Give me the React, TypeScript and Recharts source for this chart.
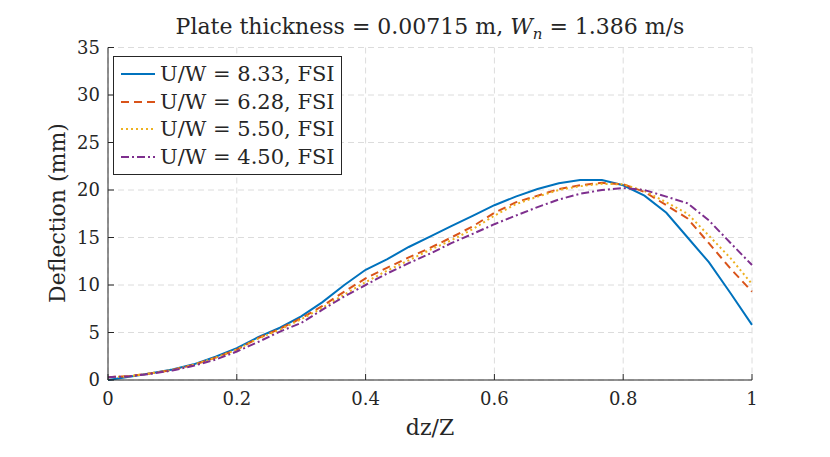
import { CartesianGrid, Line, LineChart, XAxis, YAxis } from "recharts";

const dz = [
  0, 0.033, 0.067, 0.1, 0.133, 0.167, 0.2, 0.233, 0.267, 0.3, 0.333, 0.367,
  0.4, 0.433, 0.467, 0.5, 0.533, 0.567, 0.6, 0.633, 0.667, 0.7, 0.733, 0.767,
  0.8, 0.833, 0.867, 0.9, 0.933, 0.967, 1,
];

const uw833 = [
  0.0, 0.35, 0.7, 1.1, 1.65, 2.45, 3.35, 4.5, 5.5, 6.7, 8.2, 10.0, 11.6, 12.7,
  14.0, 15.1, 16.2, 17.3, 18.4, 19.3, 20.1, 20.7, 21.05, 21.05, 20.5, 19.4,
  17.6, 15.0, 12.4, 9.1, 5.8,
];
const uw628 = [
  0.3, 0.4, 0.7, 1.05, 1.6, 2.35, 3.2, 4.4, 5.4, 6.5, 7.8, 9.3, 10.7, 11.8,
  12.9, 13.9, 15.0, 16.2, 17.6, 18.7, 19.4, 20.1, 20.5, 20.75, 20.6, 19.8,
  18.4, 17.0, 14.4, 11.7, 9.3,
];
const uw550 = [
  0.3, 0.4, 0.7, 1.05, 1.6, 2.35, 3.2, 4.35, 5.3, 6.4, 7.6, 9.0, 10.3, 11.5,
  12.6, 13.7, 14.7, 15.9, 17.3, 18.5, 19.3, 20.0, 20.4, 20.65, 20.6, 19.9,
  18.7, 17.5, 15.2, 12.8, 10.1,
];
const uw450 = [
  0.3, 0.4, 0.65, 1.0, 1.5, 2.15, 3.0, 4.0, 5.1, 6.0, 7.4, 8.8, 10.0, 11.2,
  12.3, 13.3, 14.4, 15.4, 16.4, 17.3, 18.2, 19.0, 19.6, 20.0, 20.2, 20.0,
  19.3, 18.6, 16.8, 14.4, 12.1,
];

const xTicks = [0, 0.2, 0.4, 0.6, 0.8, 1];
const yTicks = [0, 5, 10, 15, 20, 25, 30, 35];

const series = [
  { key: "a", name: "U/W = 8.33, FSI", color: "#0072BD", dash: undefined },
  { key: "b", name: "U/W = 6.28, FSI", color: "#D95319", dash: "8 5" },
  { key: "c", name: "U/W = 5.50, FSI", color: "#EDB120", dash: "2 3" },
  { key: "d", name: "U/W = 4.50, FSI", color: "#7E2F8E", dash: "8 3 2 3" },
];

const data = dz.map((x, i) => ({
  x,
  a: uw833[i],
  b: uw628[i],
  c: uw550[i],
  d: uw450[i],
}));

const font = "DejaVu Serif";
const ink = "#262626";
const tickStyle = { fill: ink, fontSize: 18, fontFamily: font };

export default function App() {
  return (
    <div
      style={{
        position: "absolute",
        left: 0,
        top: 0,
        width: 830,
        height: 457,
        background: "#fff",
        fontFamily: font,
        color: ink,
      }}
    >
      <LineChart
        width={830}
        height={457}
        data={data}
        margin={{ top: 47.5, right: 78, left: 48, bottom: 37 }}
      >
        <CartesianGrid strokeDasharray="6 4" stroke="#dcdcdc" />
        <XAxis
          dataKey="x"
          type="number"
          domain={[0, 1]}
          ticks={xTicks}
          height={40}
          stroke={ink}
          tickSize={-6}
          tickMargin={18}
          tick={tickStyle}
        />
        <XAxis
          xAxisId="top"
          orientation="top"
          dataKey="x"
          type="number"
          domain={[0, 1]}
          ticks={xTicks}
          height={0}
          stroke={ink}
          tickSize={-6}
          tick={false}
        />
        <YAxis
          type="number"
          domain={[0, 35]}
          ticks={yTicks}
          width={60}
          stroke={ink}
          tickSize={-6}
          tickMargin={14}
          tick={tickStyle}
        />
        <YAxis
          yAxisId="right"
          orientation="right"
          type="number"
          domain={[0, 35]}
          ticks={yTicks}
          width={0}
          stroke={ink}
          tickSize={-6}
          tick={false}
        />
        {series.map((s) => (
          <Line
            key={s.key}
            type="linear"
            dataKey={s.key}
            name={s.name}
            stroke={s.color}
            strokeWidth={2}
            strokeDasharray={s.dash}
            dot={false}
            isAnimationActive={false}
          />
        ))}
      </LineChart>

      <div
        style={{
          position: "absolute",
          left: 0,
          top: 14,
          width: 860,
          textAlign: "center",
          fontSize: 22,
          lineHeight: "26px",
          whiteSpace: "nowrap",
        }}
      >
        Plate thickness = 0.00715 m, <i>W</i>
        <sub style={{ fontSize: 15, fontStyle: "italic", lineHeight: 0 }}>n</sub> = 1.386 m/s
      </div>

      <div
        style={{
          position: "absolute",
          left: 0,
          top: 416,
          width: 860,
          textAlign: "center",
          fontSize: 22,
          lineHeight: "24px",
        }}
      >
        dz/Z
      </div>

      <div
        style={{
          position: "absolute",
          left: 58,
          top: 213,
          transform: "translate(-50%, -50%) rotate(-90deg)",
          whiteSpace: "nowrap",
          fontSize: 22,
          lineHeight: "24px",
        }}
      >
        Deflection (mm)
      </div>

      <div
        style={{
          position: "absolute",
          left: 113,
          top: 56,
          width: 229,
          height: 119,
          border: `1px solid ${ink}`,
          background: "#fff",
          padding: "3px 0 0 6px",
          boxSizing: "border-box",
        }}
      >
        {series.map((s) => (
          <div
            key={s.key}
            style={{
              display: "flex",
              alignItems: "center",
              height: 27.7,
              fontSize: 21,
              whiteSpace: "nowrap",
            }}
          >
            <svg width={36} height={10} style={{ marginRight: 4, flexShrink: 0 }}>
              <line
                x1={1}
                y1={5}
                x2={35}
                y2={5}
                stroke={s.color}
                strokeWidth={2}
                strokeDasharray={s.dash}
              />
            </svg>
            <span>{s.name}</span>
          </div>
        ))}
      </div>
    </div>
  );
}
